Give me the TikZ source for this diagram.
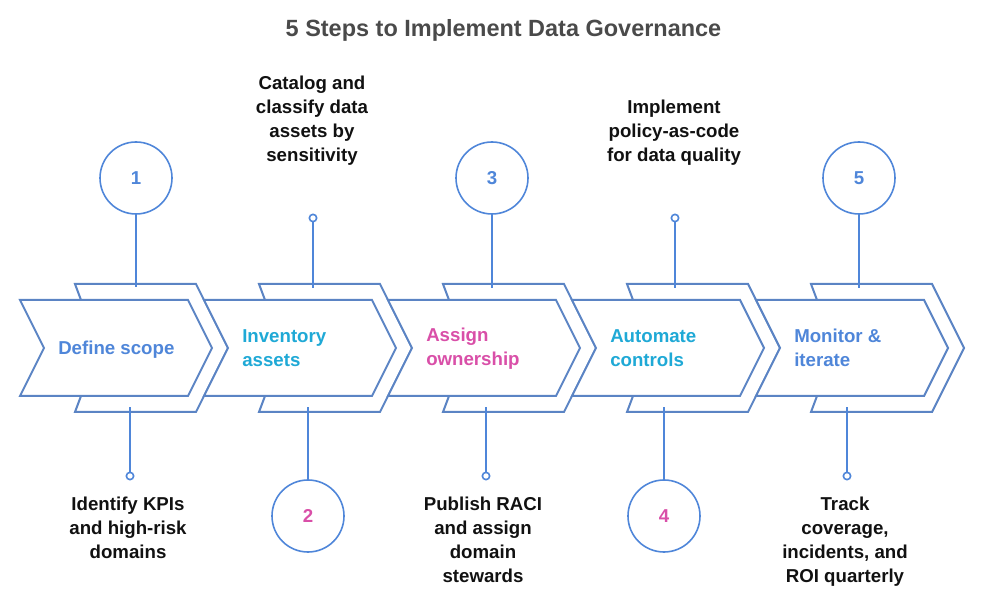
\documentclass[tikz,border=0pt]{standalone}
\usepackage{fontspec}
\setmainfont{Liberation Sans}
\definecolor{lineblue}{HTML}{5B84C4}
\definecolor{stepblue}{HTML}{4F86D9}
\definecolor{stepcyan}{HTML}{1FA9D6}
\definecolor{steppink}{HTML}{D94FA8}
\definecolor{titlegray}{HTML}{4A4A4A}
\definecolor{notegray}{HTML}{111111}
\tikzset{
  chevron/.style={draw=lineblue, line width=1.5pt, line join=miter, fill=white},
  stepnum/.style={circle, draw=stepblue, line width=1.2pt, minimum size=54pt, inner sep=0pt, font=\fontsize{14}{15}\selectfont\bfseries},
  stepdot/.style={circle, draw=stepblue, line width=1.2pt, fill=white, minimum size=5.5pt, inner sep=0pt},
  steplabel/.style={anchor=west, align=left, inner sep=0pt, font=\fontsize{14}{18}\selectfont\bfseries},
  note/.style={align=center, inner sep=0pt, text=notegray, font=\fontsize{14}{18}\selectfont\bfseries},
  stem/.style={draw=stepblue, line width=1.2pt}
}
\begin{document}
\begin{tikzpicture}[x=0.75pt, y=-0.75pt]
        \useasboundingbox (0,0) rectangle (993,609);
        % back chevrons
        \draw[chevron] (75,284) -- (196,284) -- (228,348) -- (196,412) -- (75,412) -- (81,396) -- (81,300) -- cycle;
        \draw[chevron] (259,284) -- (380,284) -- (412,348) -- (380,412) -- (259,412) -- (265,396) -- (265,300) -- cycle;
        \draw[chevron] (443,284) -- (564,284) -- (596,348) -- (564,412) -- (443,412) -- (449,396) -- (449,300) -- cycle;
        \draw[chevron] (627,284) -- (748,284) -- (780,348) -- (748,412) -- (627,412) -- (633,396) -- (633,300) -- cycle;
        \draw[chevron] (811,284) -- (932,284) -- (964,348) -- (932,412) -- (811,412) -- (817,396) -- (817,300) -- cycle;
        % front chevrons
        \draw[chevron] (20,300) -- (188,300) -- (212,348) -- (188,396) -- (20,396) -- (44,348) -- cycle;
        \draw[chevron] (204,300) -- (372,300) -- (396,348) -- (372,396) -- (204,396) -- (228,348) -- cycle;
        \draw[chevron] (388,300) -- (556,300) -- (580,348) -- (556,396) -- (388,396) -- (412,348) -- cycle;
        \draw[chevron] (572,300) -- (740,300) -- (764,348) -- (740,396) -- (572,396) -- (596,348) -- cycle;
        \draw[chevron] (756,300) -- (924,300) -- (948,348) -- (924,396) -- (756,396) -- (780,348) -- cycle;
        % title and step names
        \node[text=titlegray, font=\fontsize{17.6}{21}\selectfont\bfseries] (title) at (503.5,30) {5 Steps to Implement Data Governance};
        \node[steplabel, text=stepblue] (scope) at (58,350) {Define scope};
        \node[steplabel, text=stepcyan] (assets) at (242,348) {Inventory\\assets};
        \node[steplabel, text=steppink] (owner) at (426,349) {Assign\\ownership};
        \node[steplabel, text=stepcyan] (controls) at (610,348) {Automate\\controls};
        \node[steplabel, text=stepblue] (iterate) at (794,348) {Monitor \&\\iterate};
        % numbered circles
        \node[stepnum, text=stepblue] (one) at (136,178) {1};
        \node[stepnum, text=steppink] (two) at (308,516) {2};
        \node[stepnum, text=stepblue] (three) at (492,178) {3};
        \node[stepnum, text=steppink] (four) at (664,516) {4};
        \node[stepnum, text=stepblue] (five) at (859,178) {5};
        % dots
        \node[stepdot] (dotb) at (313,218) {};
        \node[stepdot] (dotd) at (675,218) {};
        \node[stepdot] (dota) at (130,476) {};
        \node[stepdot] (dotc) at (486,476) {};
        \node[stepdot] (dote) at (847,476) {};
        % stem ends on the chevrons
        \coordinate (enda) at (136,287);
        \coordinate (endb) at (313,288);
        \coordinate (endc) at (492,288);
        \coordinate (endd) at (675,288);
        \coordinate (ende) at (859,288);
        \coordinate (enda2) at (130,407);
        \coordinate (endb2) at (308,407);
        \coordinate (endc2) at (486,407);
        \coordinate (endd2) at (664,407);
        \coordinate (ende2) at (847,407);
        \draw[stem] (one) -- (enda);
        \draw[stem] (dotb) -- (endb);
        \draw[stem] (three) -- (endc);
        \draw[stem] (dotd) -- (endd);
        \draw[stem] (five) -- (ende);
        \draw[stem] (dota) -- (enda2);
        \draw[stem] (two) -- (endb2);
        \draw[stem] (dotc) -- (endc2);
        \draw[stem] (four) -- (endd2);
        \draw[stem] (dote) -- (ende2);
        % notes
        \node[note] (noteb) at (312,121) {Catalog and\\classify data\\assets by\\sensitivity};
        \node[note] (noted) at (674,133) {Implement\\policy-as-code\\for data quality};
        \node[note] (notea) at (128,528) {Identify KPIs\\and high-risk\\domains};
        \node[note] (notec) at (483,539.5) {Publish RACI\\and assign\\domain\\stewards};
        \node[note] (notee) at (845,542) {Track\\coverage,\\incidents, and\\ROI quarterly};
    \end{tikzpicture}
\end{document}
